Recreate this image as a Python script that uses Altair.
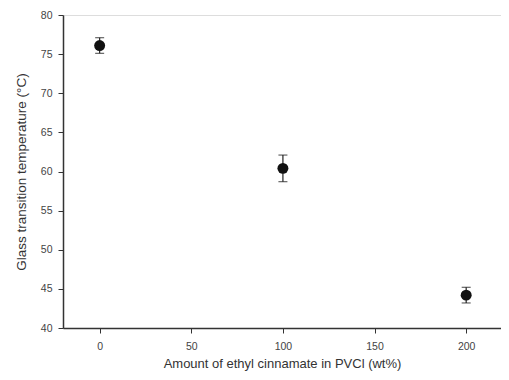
import altair as alt
import pandas as pd

amount = [0, 100, 200]
tg = [76.1, 60.4, 44.2]
err = [1.0, 1.7, 1.0]

df = pd.DataFrame({"amount": amount, "tg": tg, "err": err})
df["lo"] = df["tg"] - df["err"]
df["hi"] = df["tg"] + df["err"]

font = "Liberation Sans"
x_scale = alt.Scale(domain=[-20, 219], nice=False, zero=False)
y_scale = alt.Scale(domain=[40, 80], nice=False, zero=False)

x_axis = alt.Axis(values=[0, 50, 100, 150, 200], title="Amount of ethyl cinnamate in PVCl (wt%)",
                  grid=False, tickSize=5, labelPadding=8, titlePadding=6,
                  domainColor="#333", domainWidth=1.5, tickColor="#333",
                  labelColor="#444", titleColor="#333", labelFontSize=10.5, titleFontSize=13,
                  labelFont=font, titleFont=font, titleFontWeight="normal")
y_axis = alt.Axis(values=[40, 45, 50, 55, 60, 65, 70, 75, 80], title="Glass transition temperature (°C)",
                  grid=False, tickSize=5, labelPadding=6, titlePadding=12,
                  domainColor="#333", domainWidth=1.5, tickColor="#333",
                  labelColor="#444", titleColor="#333", labelFontSize=10.5, titleFontSize=13.5,
                  labelFont=font, titleFont=font, titleFontWeight="normal")

base = alt.Chart(df)
points = base.mark_circle(size=120, color="#111", opacity=1).encode(
    x=alt.X("amount:Q", scale=x_scale, axis=x_axis),
    y=alt.Y("tg:Q", scale=y_scale, axis=y_axis),
)
bars = base.mark_errorbar(ticks=alt.TickConfig(size=9, thickness=1.2, color="#222"), color="#222", thickness=1.2).encode(
    x=alt.X("amount:Q", scale=x_scale, axis=x_axis),
    y=alt.Y("lo:Q", scale=y_scale, axis=y_axis),
    y2="hi:Q",
)

chart = (bars + points).properties(
    width=438, height=313,
    padding={"left": 55, "top": 7, "right": 0, "bottom": 44},
    autosize=alt.AutoSizeParams(type="none"),
).configure_view(stroke="#333", strokeWidth=1.5).configure(background="white")

chart.save("out.html", embed_options={"renderer": "svg", "actions": False})
